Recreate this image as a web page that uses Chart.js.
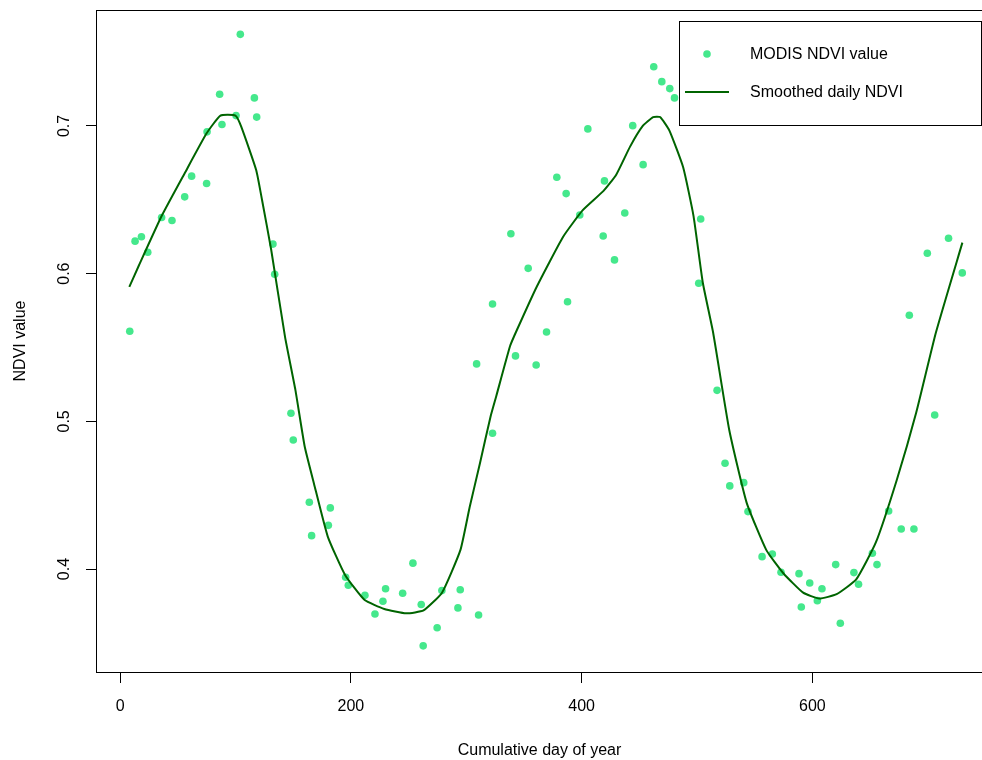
<!DOCTYPE html>
<html>
<head>
<meta charset="utf-8">
<script src="https://cdn.jsdelivr.net/npm/chart.js@4.4.0/dist/chart.umd.min.js"></script>
<style>
  html, body { margin: 0; padding: 0; background: #fff; }
</style>
</head>
<body>
<canvas id="ndviChart" width="982" height="760"></canvas>
<script>
// MODIS observations (day, NDVI)
const obsDays = [8.4, 13, 18.5, 24, 36, 45, 56, 62, 75, 75.4, 86.3, 88.3, 100.5, 104.2, 116.4, 118.4,
  132.5, 134, 148.1, 150.1, 164, 166, 180.5, 182.2, 195.5, 197.8, 212.2, 220.9, 227.8, 230.1,
  244.9, 253.8, 261, 262.7, 274.8, 278.9, 292.8, 294.8, 309, 310.7, 322.8, 322.8, 338.7, 342.7,
  353.7, 360.6, 369.6, 378.5, 386.6, 387.8, 398.4, 405.4, 418.7, 419.8, 428.5, 437.4, 444.3,
  453.3, 462.5, 469.5, 476.4, 480.5, 501.5, 503.2, 517.4, 524.3, 528.4, 540.5, 544.2, 556.4,
  565.3, 572.8, 588.4, 590.4, 597.7, 604.3, 608.3, 620.2, 624.2, 636, 640, 652, 656, 666.1,
  677, 684, 688, 699.6, 706, 718, 729.9];
const obsNdvi = [0.561, 0.622, 0.625, 0.6145, 0.638, 0.636, 0.652, 0.666, 0.661, 0.696, 0.7215, 0.701, 0.707, 0.762, 0.719, 0.706,
  0.620, 0.5996, 0.5055, 0.4874, 0.4452, 0.4226, 0.4296, 0.4414, 0.3944, 0.389, 0.3822, 0.3696, 0.3782, 0.3867,
  0.3836, 0.404, 0.376, 0.348, 0.3603, 0.3854, 0.3737, 0.386, 0.5389, 0.3689, 0.4919, 0.5795, 0.627, 0.5443,
  0.6036, 0.5382, 0.5605, 0.6653, 0.6542, 0.581, 0.6397, 0.698, 0.6255, 0.6628, 0.6093, 0.6411, 0.7002,
  0.6738, 0.7401, 0.730, 0.7253, 0.719, 0.5935, 0.637, 0.521, 0.4716, 0.4563, 0.4585, 0.4389, 0.4084,
  0.4102, 0.3978, 0.3969, 0.3743, 0.3906, 0.3786, 0.3867, 0.403, 0.3633, 0.3976, 0.3897, 0.4107, 0.403, 0.4393,
  0.4271, 0.5718, 0.4271, 0.6138, 0.5043, 0.624, 0.6005];

// smoothed curve
const smoothDays = [8, 16, 36, 56, 75, 87, 100, 105, 118, 123, 131, 143, 152, 160, 168, 180, 195, 212,
  229, 248, 263, 279, 295, 303, 312, 321, 326, 338, 344, 361, 384, 401, 419, 430, 442, 453, 462, 468,
  476, 488, 497, 505, 514, 528, 543, 560, 575, 592, 606, 621, 638, 655, 673, 690, 707, 730];
const smoothNdvi = [0.591, 0.605, 0.639, 0.668, 0.695, 0.707, 0.707, 0.6995, 0.670, 0.650, 0.616, 0.557, 0.521, 0.483,
  0.458, 0.422, 0.396, 0.379, 0.373, 0.370, 0.372, 0.384, 0.413, 0.442, 0.472, 0.503, 0.517, 0.551, 0.562,
  0.591, 0.625, 0.643, 0.656, 0.667, 0.686, 0.700, 0.706, 0.706, 0.697, 0.672, 0.639, 0.594, 0.560, 0.494,
  0.445, 0.413, 0.397, 0.384, 0.380, 0.383, 0.393, 0.418, 0.460, 0.506, 0.560, 0.621];

const xTicks = [0, 200, 400, 600];
const yTicks = [0.4, 0.5, 0.6, 0.7];

Chart.defaults.font.family = '"Liberation Sans", Arial, sans-serif';
Chart.defaults.font.size = 16;
Chart.defaults.color = "#000";

const pointColor = "#45E88C";
const lineColor = "#006400";

// R-style box around the plotting region (right side falls just off the canvas, as in the source)
const plotBox = {
  id: "plotBox",
  beforeDatasetsDraw(chart) {
    const { ctx, chartArea: a } = chart;
    ctx.save();
    ctx.strokeStyle = "#000";
    ctx.lineWidth = 1;
    ctx.strokeRect(a.left - 0.5, a.top + 0.5, a.right - a.left + 2, a.bottom - a.top);
    ctx.restore();
  },
};

// legend box in the top-right corner
const legendBox = {
  id: "legendBox",
  afterDraw(chart) {
    const { ctx, chartArea: a } = chart;
    const ds = chart.data.datasets;
    const x0 = a.right - 303;
    const y0 = a.top + 11;
    ctx.save();
    ctx.fillStyle = "#fff";
    ctx.fillRect(x0, y0, 303, 104);
    ctx.strokeStyle = "#000";
    ctx.lineWidth = 1;
    ctx.strokeRect(x0 + 0.5, y0 + 0.5, 302, 104);

    ctx.fillStyle = ds[1].pointBackgroundColor;
    ctx.beginPath();
    ctx.arc(x0 + 28, y0 + 33, 3.8, 0, Math.PI * 2);
    ctx.fill();

    ctx.strokeStyle = ds[0].borderColor;
    ctx.lineWidth = 2;
    ctx.beginPath();
    ctx.moveTo(x0 + 6, y0 + 71);
    ctx.lineTo(x0 + 50, y0 + 71);
    ctx.stroke();

    ctx.fillStyle = "#000";
    ctx.font = '16px "Liberation Sans", Arial, sans-serif';
    ctx.textBaseline = "middle";
    ctx.fillText(ds[1].label, x0 + 71, y0 + 34);
    ctx.fillText(ds[0].label, x0 + 71, y0 + 72);
    ctx.restore();
  },
};

const ctx = document.getElementById("ndviChart").getContext("2d");

new Chart(ctx, {
  type: "scatter",
  data: {
    datasets: [
      {
        label: "Smoothed daily NDVI",
        data: smoothDays.map((d, i) => ({ x: d, y: smoothNdvi[i] })),
        showLine: true,
        borderColor: lineColor,
        borderWidth: 2,
        pointRadius: 0,
        tension: 0.15,
        order: 0,
      },
      {
        label: "MODIS NDVI value",
        data: obsDays.map((d, i) => ({ x: d, y: obsNdvi[i] })),
        showLine: false,
        pointRadius: 3.8,
        pointBorderWidth: 0,
        pointBackgroundColor: pointColor,
        pointBorderColor: pointColor,
        order: 1,
      },
    ],
  },
  options: {
    responsive: false,
    animation: false,
    layout: { autoPadding: false, padding: { left: 0, right: 0, top: 10, bottom: 0 } },
    plugins: {
      legend: { display: false },
      tooltip: { enabled: false },
    },
    scales: {
      x: {
        type: "linear",
        min: -20,
        max: 747,
        border: { display: false },
        grid: { drawOnChartArea: false, drawTicks: true, tickLength: 11, color: "#000" },
        ticks: { padding: 14, color: "#000" },
        afterBuildTicks(s) {
          s.ticks = xTicks.map((v) => ({ value: v }));
        },
        title: {
          display: true,
          text: "Cumulative day of year",
          color: "#000",
          padding: { top: 0, bottom: 0 },
        },
        afterFit(s) {
          s.height = 88;
          s.paddingLeft = 0;
          s.paddingRight = 0;
        },
      },
      y: {
        type: "linear",
        min: 0.3303,
        max: 0.7785,
        border: { display: false },
        grid: { drawOnChartArea: false, drawTicks: true, tickLength: 11, color: "#000" },
        ticks: {
          padding: 10,
          minRotation: 90,
          maxRotation: 90,
          crossAlign: "center",
          color: "#000",
        },
        afterBuildTicks(s) {
          s.ticks = yTicks.map((v) => ({ value: v }));
        },
        title: {
          display: true,
          text: "NDVI value",
          color: "#000",
          padding: { top: 11, bottom: 0 },
        },
        afterFit(s) {
          s.width = 97;
          s.paddingTop = 0;
          s.paddingBottom = 0;
        },
      },
    },
  },
  plugins: [plotBox, legendBox],
});
</script>
</body>
</html>
